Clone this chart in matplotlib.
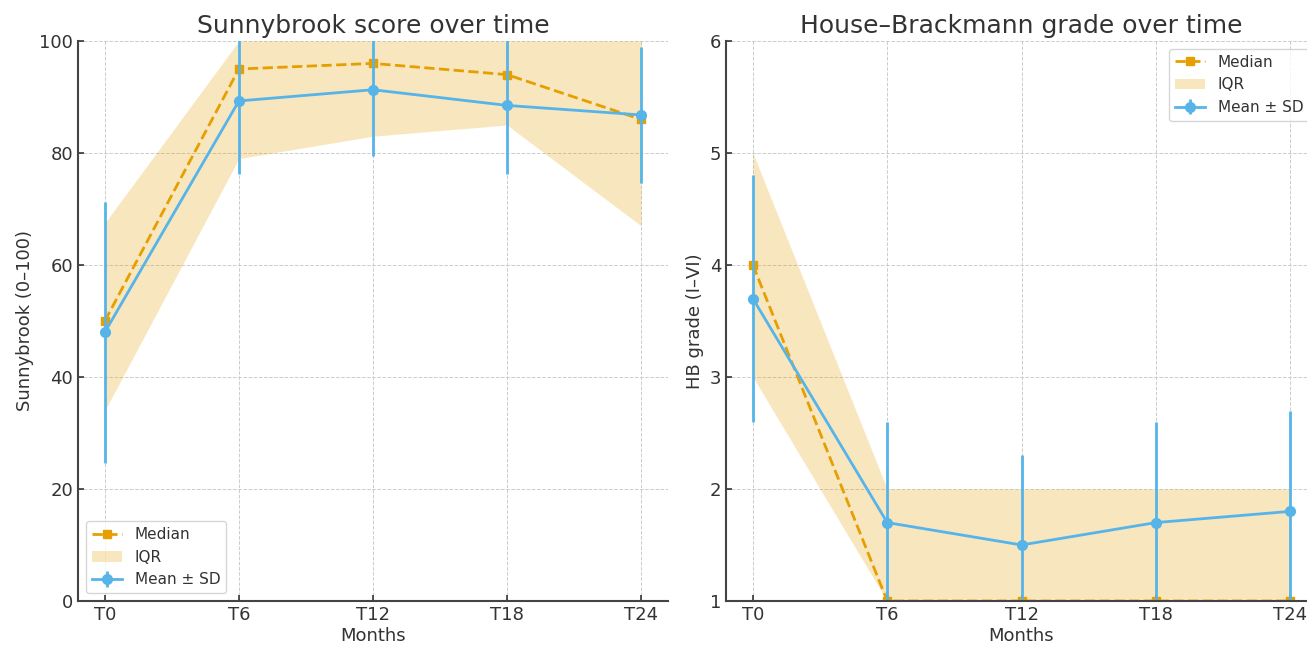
import matplotlib
matplotlib.use("Agg")
import matplotlib.pyplot as plt
import numpy as np

# time points
timepoints = ["T0", "T6", "T12", "T18", "T24"]

# Sunnybrook (0-100)
sb_median = [50, 95, 96, 94, 86]
sb_q1 = [34, 79, 83, 85, 67]
sb_q3 = [67.5, 100, 100, 100, 100]
sb_mean = [48, 89.3, 91.3, 88.5, 86.8]
sb_sd = [23.3, 13.0, 11.8, 12.3, 12.2]

# House-Brackmann (I-VI)
hb_median = [4, 1, 1, 1, 1]
hb_q1 = [3, 1, 1, 1, 1]
hb_q3 = [5, 2, 2, 2, 2]
hb_mean = [3.7, 1.7, 1.5, 1.7, 1.8]
hb_sd = [1.1, 0.9, 0.8, 0.9, 0.9]

ORANGE = "#E69F00"
BLUE = "#56B4E9"
TEXT = "#333333"

plt.rcParams.update({
    "font.family": "DejaVu Sans",
    "text.color": TEXT,
    "axes.labelcolor": TEXT,
    "xtick.color": TEXT,
    "ytick.color": TEXT,
})


def draw_panel(ax, median, q1, q3, mean, sd, title, ylabel, ylim, yticks, legend_loc):
    x = np.arange(len(timepoints))
    ax.fill_between(x, q1, q3, color=ORANGE, alpha=0.25, linewidth=0, label="IQR")
    ax.plot(x, median, color=ORANGE, linestyle="--", linewidth=2, marker="s",
            markersize=6, label="Median")
    ax.errorbar(x, mean, yerr=sd, color=BLUE, linewidth=2, marker="o",
                markersize=7, elinewidth=2, capsize=0, label="Mean ± SD")
    ax.set_xticks(x)
    ax.set_xticklabels(timepoints)
    ax.set_ylim(*ylim)
    ax.set_yticks(yticks)
    ax.set_title(title, fontsize=18, color=TEXT)
    ax.set_xlabel("Months", fontsize=13, labelpad=2)
    ax.set_ylabel(ylabel, fontsize=13)
    ax.tick_params(labelsize=13, direction="in", length=4, width=1.2)
    ax.grid(True, linestyle="--", linewidth=0.7, color="#cccccc")
    ax.set_axisbelow(True)
    for side in ["top", "right"]:
        ax.spines[side].set_visible(False)
    for side in ["left", "bottom"]:
        ax.spines[side].set_color("#444444")
        ax.spines[side].set_linewidth(1.5)
    handles, labels = ax.get_legend_handles_labels()
    order = [labels.index(l) for l in ["Median", "IQR", "Mean ± SD"]]
    leg = ax.legend([handles[i] for i in order], [labels[i] for i in order],
                    loc=legend_loc, fontsize=11, frameon=True)
    leg.get_frame().set_edgecolor("#cccccc")


fig = plt.figure(figsize=(13.07, 6.46), dpi=100)
ax1 = fig.add_axes([0.0597, 0.0697, 0.4513, 0.8668])
ax2 = fig.add_axes([0.5555, 0.0697, 0.4522, 0.8668])

draw_panel(ax1, sb_median, sb_q1, sb_q3, sb_mean, sb_sd,
           "Sunnybrook score over time", "Sunnybrook (0–100)",
           (0, 100), [0, 20, 40, 60, 80, 100], "lower left")
draw_panel(ax2, hb_median, hb_q1, hb_q3, hb_mean, hb_sd,
           "House–Brackmann grade over time", "HB grade (I–VI)",
           (1, 6), [1, 2, 3, 4, 5, 6], "upper right")

fig.savefig("out.png", dpi=100)
